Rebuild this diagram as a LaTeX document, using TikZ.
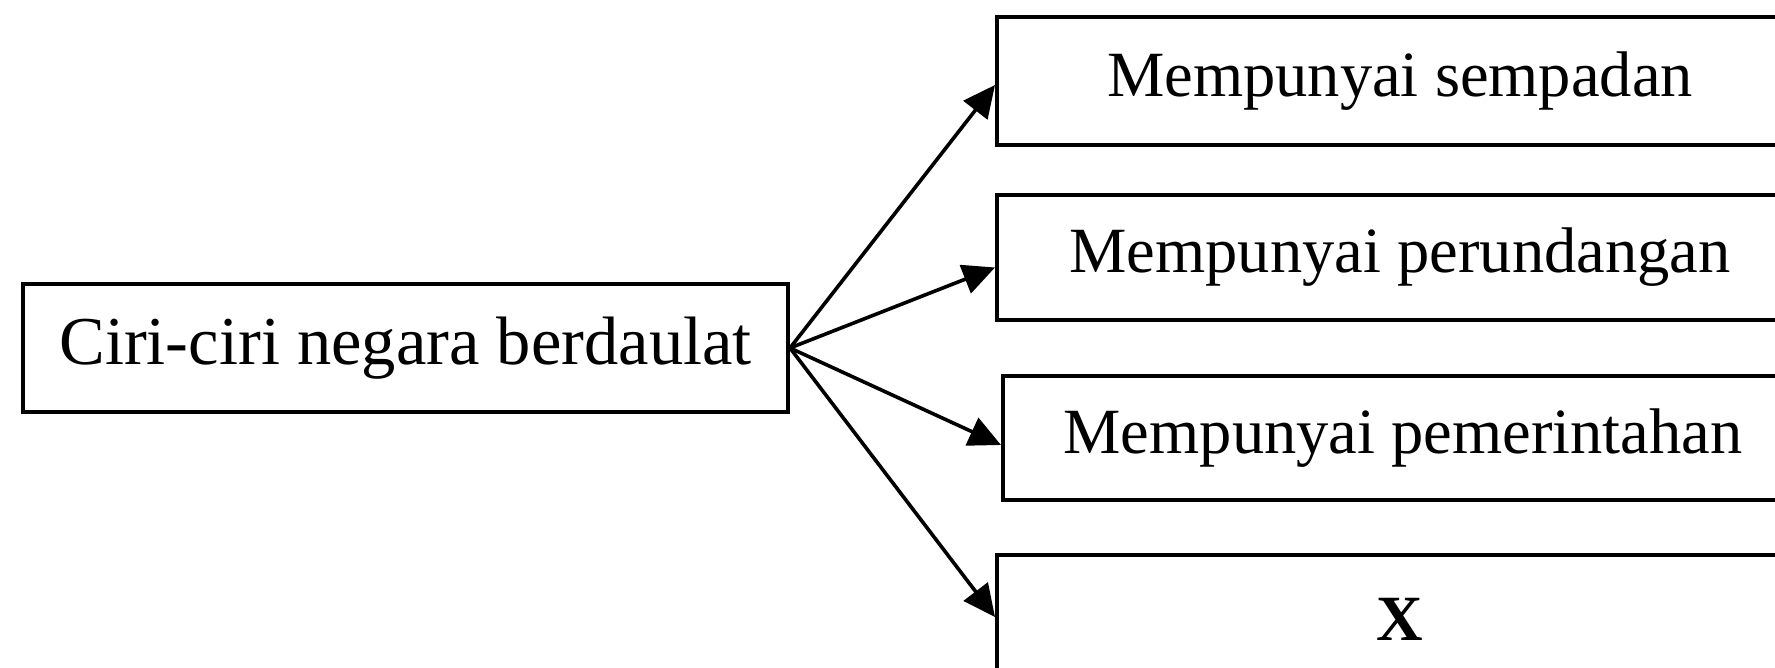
\documentclass[tikz,border=0pt]{standalone}
\usepackage{fontspec}
\setmainfont{Liberation Serif}
\usetikzlibrary{arrows.meta}
\begin{document}
\begin{tikzpicture}[x=1pt,y=1pt,
  box/.style={draw=black, line width=4pt, inner sep=0pt, font=\fontsize{64.5}{76}\selectfont},
  bigbox/.style={box, font=\fontsize{68.5}{80}\selectfont},
  conn/.style={line width=3.6pt, -{Triangle[length=32pt,width=30pt]}}]
\useasboundingbox (0,0) rectangle (1775,668);
\clip (0,0) rectangle (1775,668);
\fill[white] (0,0) rectangle (1775,668);
\node[bigbox, minimum width=765pt, minimum height=128pt] (a) at (405.5,320) {Ciri-ciri negara berdaulat};
\node[box, minimum width=806pt, minimum height=128pt] (b1) at (1400,587) {Mempunyai sempadan};
\node[box, minimum width=806pt, minimum height=125pt] (b2) at (1400,410.5) {Mempunyai perundangan};
\node[box, minimum width=800pt, minimum height=124pt] (b3) at (1403,230) {Mempunyai pemerintahan};
\node[box, minimum width=806pt, minimum height=128pt] (b4) at (1400,49) {\textbf{X}};
\draw[conn] (a.east) -- ([yshift=-4pt]b1.west);
\draw[conn] (a.east) -- ([yshift=-10pt]b2.west);
\draw[conn] (a.east) -- ([yshift=-7pt]b3.west);
\draw[conn] (a.east) -- ([yshift=2pt]b4.west);
\end{tikzpicture}
\end{document}
